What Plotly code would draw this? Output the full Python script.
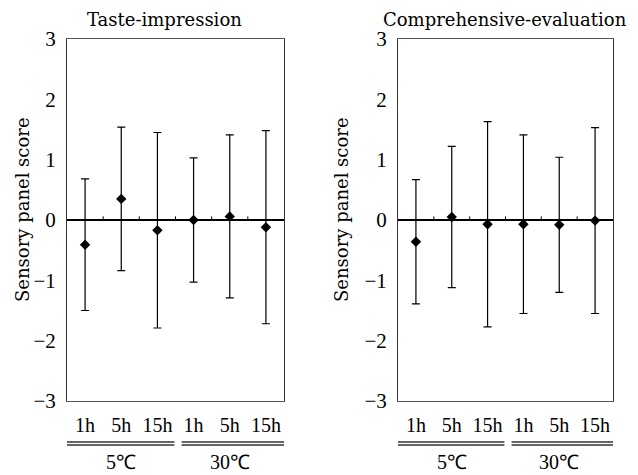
import plotly.graph_objects as go

categories = ["1h", "5h", "15h", "1h", "5h", "15h"]
groups = ["5℃", "30℃"]
taste_mean = [-0.41, 0.35, -0.17, 0.00, 0.06, -0.12]
taste_sd = [1.09, 1.19, 1.62, 1.03, 1.35, 1.60]
comp_mean = [-0.36, 0.05, -0.07, -0.07, -0.08, -0.01]
comp_sd = [1.03, 1.17, 1.70, 1.48, 1.12, 1.54]
titles = ["Taste-impression", "Comprehensive-evaluation"]
ytitle = "Sensory panel score"
yticks = [-3, -2, -1, 0, 1, 2, 3]

FONT = "Liberation Serif"
WIDE = "DejaVu Serif"

# page body has an 8px default margin; compensate
OFF = 8
W, H = 638 - OFF, 475 - OFF


def px(x):
    return (x - OFF) / W


def py(y):
    return (H - (y - OFF)) / H


fig = go.Figure()

xs = list(range(len(categories)))
doms = [[px(67), px(284)], [px(398), px(613)]]
ydom = [py(401), py(39)]
# underline extents per group, relative to the group's category span
line_pad = [(-0.53, 0.47), (-0.33, 0.55)]

for i, (m, sd) in enumerate([(taste_mean, taste_sd), (comp_mean, comp_sd)]):
    xa = "x" if i == 0 else "x2"
    ya = "y" if i == 0 else "y2"
    fig.add_trace(go.Scatter(
        x=xs, y=m, mode="markers", xaxis=xa, yaxis=ya,
        marker=dict(symbol="diamond", size=8, color="black"),
        error_y=dict(type="data", array=sd, visible=True, color="black",
                     thickness=1.2, width=4),
        showlegend=False,
    ))
    axkey = "xaxis" if i == 0 else "xaxis2"
    aykey = "yaxis" if i == 0 else "yaxis2"
    fig.layout[axkey] = dict(
        domain=doms[i], range=[-0.5, len(categories) - 0.5],
        tickvals=xs, ticktext=categories, ticks="", showgrid=False,
        zeroline=False, showline=True, linecolor="#555", linewidth=1,
        mirror=True, tickfont=dict(family=FONT, size=20, color="black"),
        anchor=ya, ticklabelstandoff=6, automargin=False,
    )
    fig.layout[aykey] = dict(
        domain=ydom, range=[-3, 3], tickvals=yticks, ticks="",
        showgrid=False, zeroline=True, zerolinecolor="black",
        zerolinewidth=1.5, showline=True, linecolor="#333", linewidth=1,
        mirror=True, tickfont=dict(family=FONT, size=21, color="black"),
        anchor=xa, ticklabelstandoff=6, automargin=False,
    )
    # small upward ticks on zero line between categories
    for k in range(len(categories) - 1):
        fig.add_shape(type="line", xref=xa, yref=ya, x0=k + 0.5, x1=k + 0.5,
                      y0=0, y1=0.06, line=dict(color="black", width=1))
    # title
    cx = [px(164), px(505)][i]
    fig.add_annotation(text=titles[i], xref="paper", yref="paper", x=cx,
                       y=py(20), showarrow=False, xanchor="center",
                       yanchor="middle",
                       font=dict(family=WIDE, size=18, color="black"))
    tx = [px(22), px(341)][i]
    fig.add_annotation(text=ytitle, xref="paper", yref="paper", x=tx,
                       y=py(210), showarrow=False, textangle=-90,
                       xanchor="center", yanchor="middle",
                       font=dict(family=WIDE, size=18, color="black"))
    # group underlines (double) and labels
    for g, name in enumerate(groups):
        x0 = g * 3 + line_pad[g][0]
        x1 = g * 3 + 2 + line_pad[g][1]
        for yy in [442, 445]:
            fig.add_shape(type="line", xref=xa, yref="paper", x0=x0, x1=x1,
                          y0=py(yy), y1=py(yy),
                          line=dict(color="#333", width=1.5))
        fig.add_annotation(text=name, xref=xa, yref="paper", x=g * 3 + 1,
                           y=py(462), showarrow=False,
                           xanchor="center", yanchor="middle",
                           font=dict(family=FONT, size=20, color="black"))

fig.update_layout(
    width=W, height=H,
    margin=dict(l=0, r=0, t=0, b=0, autoexpand=False),
    paper_bgcolor="white", plot_bgcolor="white",
)
fig.write_html("out.html")
